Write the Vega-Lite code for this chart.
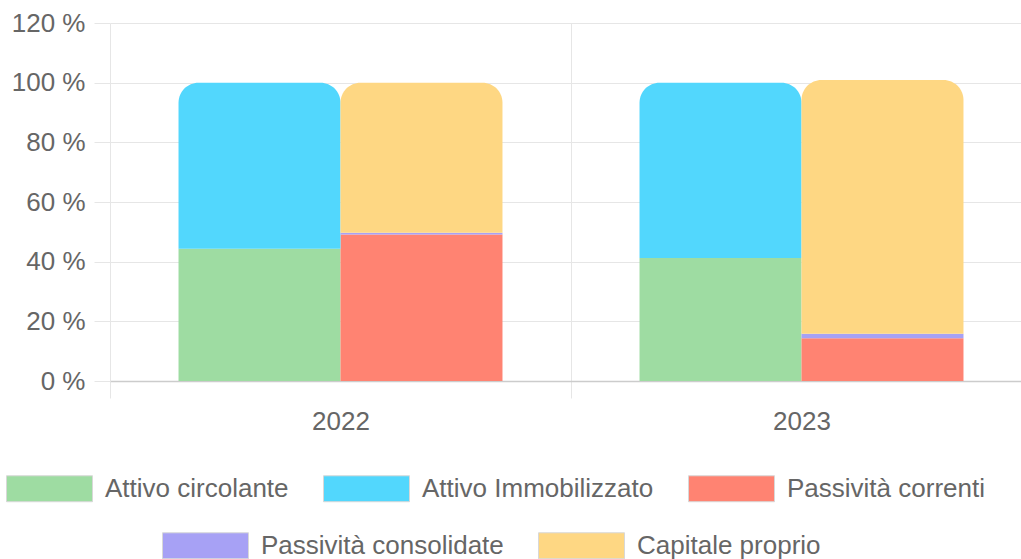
{
  "$schema": "https://vega.github.io/schema/vega-lite/v6.json",
  "width": 922,
  "height": 358,
  "autosize": "none",
  "padding": {"left": 110, "top": 23, "right": 0, "bottom": 178},
  "background": "white",
  "config": {
    "font": "Liberation Sans",
    "view": {"stroke": null},
    "legend": {
      "orient": "none",
      "direction": "horizontal",
      "title": null,
      "symbolType": "M-1,-0.302H1V0.302H-1Z",
      "symbolSize": 7396,
      "symbolStrokeWidth": 1,
      "symbolStrokeColor": "#d8d8d8",
      "labelFontSize": 26,
      "labelColor": "#666666",
      "labelOffset": 12,
      "labelLimit": 500,
      "columnPadding": 32,
      "padding": 0
    }
  },
  "data": {
    "values": [
      {"year": "2022", "side": "Attivo", "serie": "Attivo circolante", "order": 1, "value": 44.3},
      {"year": "2022", "side": "Attivo", "serie": "Attivo Immobilizzato", "order": 2, "value": 55.7},
      {"year": "2022", "side": "Passivo", "serie": "Passività correnti", "order": 1, "value": 49.1},
      {"year": "2022", "side": "Passivo", "serie": "Passività consolidate", "order": 2, "value": 0.6},
      {"year": "2022", "side": "Passivo", "serie": "Capitale proprio", "order": 3, "value": 50.3},
      {"year": "2023", "side": "Attivo", "serie": "Attivo circolante", "order": 1, "value": 41.2},
      {"year": "2023", "side": "Attivo", "serie": "Attivo Immobilizzato", "order": 2, "value": 58.8},
      {"year": "2023", "side": "Passivo", "serie": "Passività correnti", "order": 1, "value": 14.3},
      {"year": "2023", "side": "Passivo", "serie": "Passività consolidate", "order": 2, "value": 1.5},
      {"year": "2023", "side": "Passivo", "serie": "Capitale proprio", "order": 3, "value": 85.1}
    ]
  },
  "transform": [
    {"stack": "value", "groupby": ["year", "side"], "sort": [{"field": "order", "order": "ascending"}], "as": ["v0", "v1"]}
  ],
  "encoding": {
    "x": {
      "field": "year", "type": "nominal",
      "scale": {"paddingInner": 0, "paddingOuter": 0},
      "axis": {
        "title": null, "labelAngle": 0, "labelFontSize": 26, "labelColor": "#666666",
        "labelPadding": 10, "tickBand": "extent", "grid": true, "gridColor": "#e6e6e6",
        "tickColor": "#e6e6e6", "tickSize": 17, "domainColor": "#cccccc", "domainWidth": 1.5
      }
    },
    "xOffset": {"field": "side", "type": "nominal", "scale": {"paddingInner": 0, "paddingOuter": 0.423}},
    "y": {
      "field": "v0", "type": "quantitative",
      "scale": {"domain": [0, 120]},
      "axis": {
        "title": null, "values": [0, 20, 40, 60, 80, 100, 120], "labelExpr": "datum.value + ' %'",
        "labelFontSize": 26, "labelColor": "#666666", "labelPadding": 9, "grid": true,
        "gridColor": "#e6e6e6", "tickColor": "#e6e6e6", "tickSize": 16, "domain": false
      }
    },
    "y2": {"field": "v1"}
  },
  "layer": [
    {
      "transform": [{"filter": "datum.serie == 'Attivo circolante' || datum.serie == 'Passività correnti'"}],
      "mark": {"type": "bar"},
      "encoding": {
        "color": {
          "field": "serie", "type": "nominal",
          "scale": {"domain": ["Attivo circolante", "Attivo Immobilizzato", "Passività correnti"], "range": ["#9edca2", "#52d7fd", "#ff8372"]},
          "legend": {"legendX": -104, "legendY": 422}
        }
      }
    },
    {
      "transform": [{"filter": "datum.serie == 'Attivo Immobilizzato'"}],
      "mark": {"type": "bar", "cornerRadiusTopLeft": 20, "cornerRadiusTopRight": 20},
      "encoding": {
        "color": {
          "field": "serie", "type": "nominal",
          "scale": {"domain": ["Attivo circolante", "Attivo Immobilizzato", "Passività correnti"], "range": ["#9edca2", "#52d7fd", "#ff8372"]},
          "legend": {"legendX": -104, "legendY": 422}
        }
      }
    },
    {
      "transform": [{"filter": "datum.serie == 'Passività consolidate'"}],
      "mark": {"type": "bar"},
      "encoding": {
        "fill": {
          "field": "serie", "type": "nominal",
          "scale": {"domain": ["Passività consolidate", "Capitale proprio"], "range": ["#a7a1f5", "#fed783"]},
          "legend": {"legendX": 52, "legendY": 479}
        }
      }
    },
    {
      "transform": [{"filter": "datum.serie == 'Capitale proprio'"}],
      "mark": {"type": "bar", "cornerRadiusTopLeft": 20, "cornerRadiusTopRight": 20},
      "encoding": {
        "fill": {
          "field": "serie", "type": "nominal",
          "scale": {"domain": ["Passività consolidate", "Capitale proprio"], "range": ["#a7a1f5", "#fed783"]},
          "legend": {"legendX": 52, "legendY": 479}
        }
      }
    }
  ]
}
